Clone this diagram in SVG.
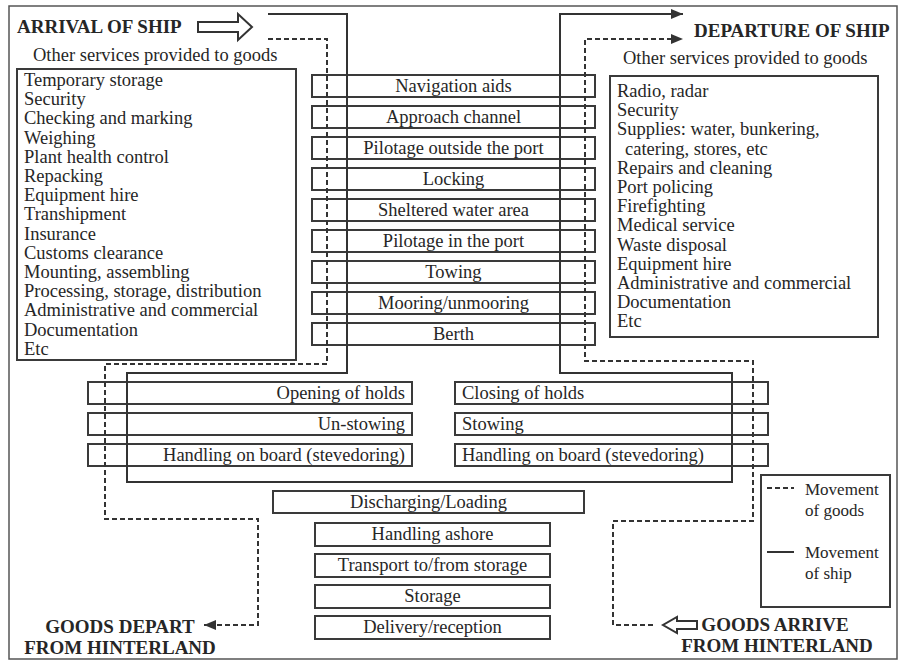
<svg xmlns="http://www.w3.org/2000/svg" width="902" height="666" viewBox="0 0 902 666">
<style>
.frame{fill:none;stroke:#555;stroke-width:1.5}
.box{fill:none;stroke:#3a3a3a;stroke-width:2}
.t{font-family:"Liberation Serif","Times New Roman",serif;font-size:18.5px;fill:#262626}
.b{font-weight:bold;font-size:19px}
.lg{font-size:17px}
.m{text-anchor:middle}
.e{text-anchor:end}
.ship{fill:none;stroke:#333;stroke-width:2}
.goods{fill:none;stroke:#333;stroke-width:2;stroke-dasharray:5 3}
.hollow{fill:#fff;stroke:#333;stroke-width:2;stroke-linejoin:miter}
</style>
<defs>
<marker id="ah" markerUnits="userSpaceOnUse" markerWidth="12" markerHeight="10" refX="12" refY="5" orient="auto">
<path d="M0,0 L12,5 L0,10 Z" fill="#333"/>
</marker>
</defs>
<rect width="902" height="666" fill="#fff"/>
<rect class="frame" x="9" y="6" width="888" height="653"/>

<g id="arrival">
<text class="t b" x="17" y="33">ARRIVAL OF SHIP</text>
<polygon class="hollow" points="198,22 238,22 238,14 252,27 238,40 238,32 198,32"/>
</g>
<g id="departure">
<text class="t b" x="694" y="37">DEPARTURE OF SHIP</text>
</g>

<g id="goods-services">
<text class="t" x="33" y="61">Other services provided to goods</text>
<rect class="box" x="17" y="69" width="279" height="291"/>
<text class="t" x="24" y="86">Temporary storage</text>
<text class="t" x="24" y="105.2">Security</text>
<text class="t" x="24" y="124.4">Checking and marking</text>
<text class="t" x="24" y="143.6">Weighing</text>
<text class="t" x="24" y="162.8">Plant health control</text>
<text class="t" x="24" y="182">Repacking</text>
<text class="t" x="24" y="201.2">Equipment hire</text>
<text class="t" x="24" y="220.4">Transhipment</text>
<text class="t" x="24" y="239.6">Insurance</text>
<text class="t" x="24" y="258.8">Customs clearance</text>
<text class="t" x="24" y="278">Mounting, assembling</text>
<text class="t" x="24" y="297.2">Processing, storage, distribution</text>
<text class="t" x="24" y="316.4">Administrative and commercial</text>
<text class="t" x="24" y="335.6">Documentation</text>
<text class="t" x="24" y="354.8">Etc</text>
</g>

<g id="ship-services">
<text class="t" x="623" y="64">Other services provided to goods</text>
<rect class="box" x="610" y="76" width="268" height="261"/>
<text class="t" x="617" y="97">Radio, radar</text>
<text class="t" x="617" y="116.2">Security</text>
<text class="t" x="617" y="135.4">Supplies: water, bunkering,</text>
<text class="t" x="625" y="154.6">catering, stores, etc</text>
<text class="t" x="617" y="173.8">Repairs and cleaning</text>
<text class="t" x="617" y="193">Port policing</text>
<text class="t" x="617" y="212.2">Firefighting</text>
<text class="t" x="617" y="231.4">Medical service</text>
<text class="t" x="617" y="250.6">Waste disposal</text>
<text class="t" x="617" y="269.8">Equipment hire</text>
<text class="t" x="617" y="289">Administrative and commercial</text>
<text class="t" x="617" y="308.2">Documentation</text>
<text class="t" x="617" y="327.4">Etc</text>
</g>

<g id="navigation-aids"><rect class="box" x="312" y="75" width="283" height="22"/><text class="t m" x="453.5" y="92">Navigation aids</text></g>
<g id="approach-channel"><rect class="box" x="312" y="106" width="283" height="22"/><text class="t m" x="453.5" y="123">Approach channel</text></g>
<g id="pilotage-outside"><rect class="box" x="312" y="137" width="283" height="22"/><text class="t m" x="453.5" y="154">Pilotage outside the port</text></g>
<g id="locking"><rect class="box" x="312" y="168" width="283" height="22"/><text class="t m" x="453.5" y="185">Locking</text></g>
<g id="sheltered-water"><rect class="box" x="312" y="199" width="283" height="22"/><text class="t m" x="453.5" y="216">Sheltered water area</text></g>
<g id="pilotage-in-port"><rect class="box" x="312" y="230" width="283" height="22"/><text class="t m" x="453.5" y="247">Pilotage in the port</text></g>
<g id="towing"><rect class="box" x="312" y="261" width="283" height="22"/><text class="t m" x="453.5" y="278">Towing</text></g>
<g id="mooring"><rect class="box" x="312" y="292" width="283" height="22"/><text class="t m" x="453.5" y="309">Mooring/unmooring</text></g>
<g id="berth"><rect class="box" x="312" y="323" width="283" height="22"/><text class="t m" x="453.5" y="340">Berth</text></g>

<g id="opening-holds"><rect class="box" x="88" y="382" width="324" height="22"/><text class="t e" x="405" y="399">Opening of holds</text></g>
<g id="unstowing"><rect class="box" x="88" y="413" width="324" height="22"/><text class="t e" x="405" y="430">Un-stowing</text></g>
<g id="handling-board-left"><rect class="box" x="88" y="444" width="324" height="22"/><text class="t e" x="405" y="461">Handling on board (stevedoring)</text></g>
<g id="closing-holds"><rect class="box" x="455" y="382" width="313" height="22"/><text class="t" x="462" y="399">Closing of holds</text></g>
<g id="stowing"><rect class="box" x="455" y="413" width="313" height="22"/><text class="t" x="462" y="430">Stowing</text></g>
<g id="handling-board-right"><rect class="box" x="455" y="444" width="313" height="22"/><text class="t" x="462" y="461">Handling on board (stevedoring)</text></g>

<g id="discharging-loading"><rect class="box" x="273" y="491" width="311" height="22"/><text class="t m" x="428.5" y="508">Discharging/Loading</text></g>
<g id="handling-ashore"><rect class="box" x="315" y="523" width="235" height="23"/><text class="t m" x="432.5" y="540">Handling ashore</text></g>
<g id="transport-storage"><rect class="box" x="315" y="554" width="235" height="23"/><text class="t m" x="432.5" y="571">Transport to/from storage</text></g>
<g id="storage"><rect class="box" x="315" y="585" width="235" height="23"/><text class="t m" x="432.5" y="602">Storage</text></g>
<g id="delivery"><rect class="box" x="315" y="616" width="235" height="23"/><text class="t m" x="432.5" y="633">Delivery/reception</text></g>

<g id="goods-depart">
<text class="t b m" x="120" y="633">GOODS DEPART</text>
<text class="t b m" x="120" y="654">FROM HINTERLAND</text>
</g>
<g id="goods-arrive">
<polygon class="hollow" points="697,621 677,621 677,617 663,625 677,633 677,629 697,629"/>
<text class="t b m" x="775" y="631">GOODS ARRIVE</text>
<text class="t b m" x="777" y="652">FROM HINTERLAND</text>
</g>

<g id="legend">
<rect class="box" x="761" y="475" width="129" height="132"/>
<line class="goods" x1="767" y1="488" x2="794" y2="488"/>
<text class="t lg" x="805" y="495">Movement</text>
<text class="t lg" x="805" y="516">of goods</text>
<line class="ship" x1="767" y1="552" x2="794" y2="552"/>
<text class="t lg" x="805" y="558">Movement</text>
<text class="t lg" x="805" y="579">of ship</text>
</g>

<g id="connectors">
<path class="ship" d="M268,14 H347 V373 H127 V482 H732 V373 H560 V14 H683" marker-end="url(#ah)"/>
<path class="goods" d="M268,39 H327 V364 H105 V519 H258 V625 H204" marker-end="url(#ah)"/>
<path class="goods" d="M653,625 H613 V521 H753 V361 H585 V39 H683" marker-end="url(#ah)"/>
</g>
</svg>
